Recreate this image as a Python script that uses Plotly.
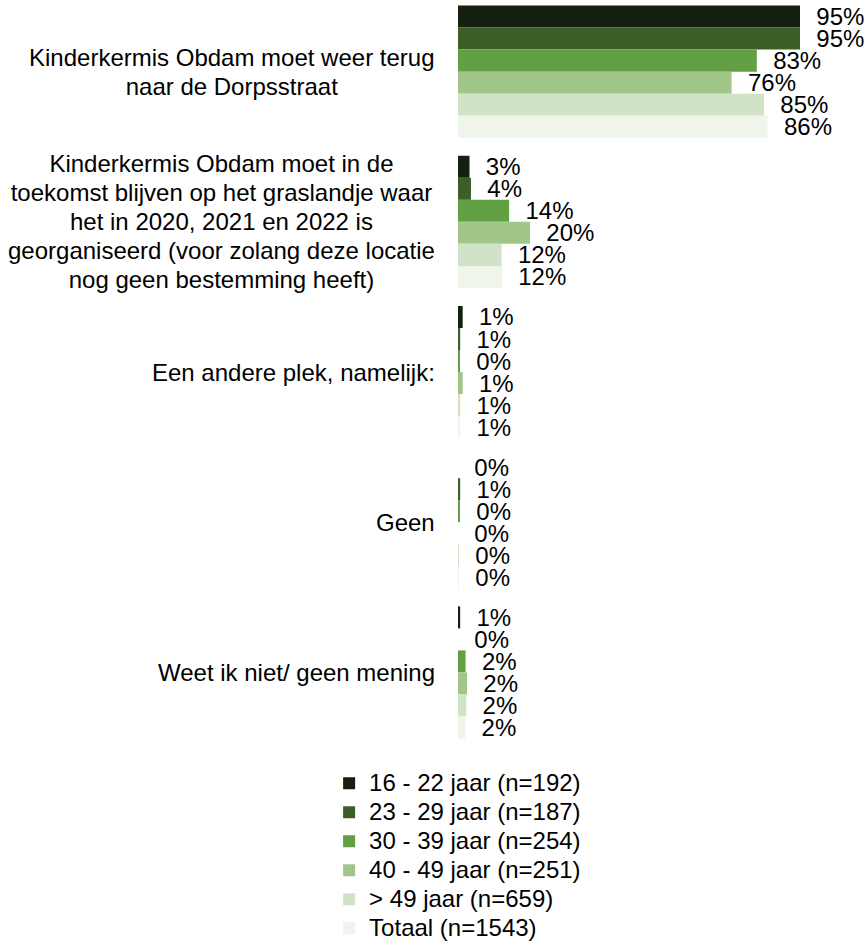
import plotly.graph_objects as go

# answer options (top to bottom)
categories = [
    "Kinderkermis Obdam moet weer terug<br>naar de Dorpsstraat",
    "Kinderkermis Obdam moet in de<br>toekomst blijven op het graslandje waar<br>het in 2020, 2021 en 2022 is<br>georganiseerd (voor zolang deze locatie<br>nog geen bestemming heeft)",
    "Een andere plek, namelijk:",
    "Geen",
    "Weet ik niet/ geen mening",
]

# age groups (legend)
groups = [
    "16 - 22 jaar (n=192)",
    "23 - 29 jaar (n=187)",
    "30 - 39 jaar (n=254)",
    "40 - 49 jaar (n=251)",
    "> 49 jaar (n=659)",
    "Totaal (n=1543)",
]

# percentages per age group, one value per answer option
pct_16_22 = [95, 3.2, 1.3, 0, 0.6]
pct_23_29 = [95, 3.6, 0.6, 0.6, 0]
pct_30_39 = [83, 14.2, 0.3, 0.3, 2.1]
pct_40_49 = [76, 20, 1.3, 0, 2.5]
pct_49_up = [85, 12.1, 0.6, 0.1, 2.3]
pct_totaal = [86, 12.2, 0.6, 0.1, 2.0]

series = [pct_16_22, pct_23_29, pct_30_39, pct_40_49, pct_49_up, pct_totaal]
colors = ["#152010", "#3C5F28", "#62A043", "#A1C68A", "#D0E3C7", "#EFF5EA"]

FONT = "Arial, Liberation Sans, sans-serif"


def big(s):
    # render at 24px while line spacing follows the smaller base font
    return "<br>".join(f'<span style="font-size:24px">{p}</span>' for p in s.split("<br>"))


fig = go.Figure()
ypos = list(range(len(categories)))
for name, vals, col in zip(groups, series, colors):
    fig.add_trace(go.Bar(
        y=ypos,
        x=vals,
        orientation="h",
        name=big(name),
        marker=dict(color=col, line=dict(width=0)),
        text=["\u00a0\u00a0" + f"{v:.0f}%" for v in vals],
        textposition="outside",
        constraintext="none",
        cliponaxis=False,
        textfont=dict(family=FONT, size=24, color="black"),
    ))

# category labels, centered lines, right-aligned block
for i, cat in enumerate(categories):
    fig.add_annotation(
        x=-0.058, xref="paper", xanchor="right",
        y=i, yref="y", yanchor="middle",
        text=big(cat), align="center", showarrow=False,
        font=dict(family=FONT, size=22.4, color="black"),
    )

fig.update_layout(
    width=866,
    height=948,
    margin=dict(l=458, r=48, t=0, b=193),
    barmode="group",
    bargap=0.12,
    bargroupgap=0,
    plot_bgcolor="white",
    paper_bgcolor="white",
    font=dict(family=FONT, size=24, color="black"),
    xaxis=dict(range=[0, 100], visible=False),
    yaxis=dict(range=[4.523, -0.477], visible=False),
    legend=dict(
        x=-0.358, xanchor="left",
        y=-0.262, yanchor="bottom",
        traceorder="normal",
        font=dict(family=FONT, size=20, color="black"),
        itemwidth=30,
    ),
    showlegend=True,
)

fig.write_html(
    "out.html",
    config={"displayModeBar": False},
    post_script="document.body.style.margin='0';",
)
